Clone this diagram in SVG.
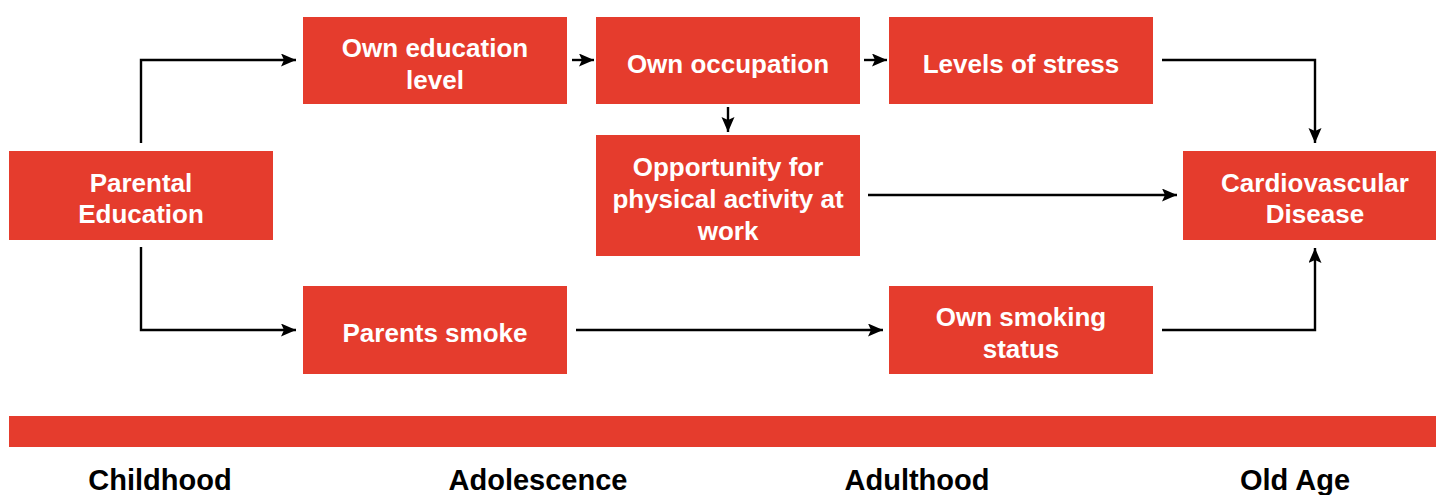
<svg xmlns="http://www.w3.org/2000/svg" width="1436" height="495" viewBox="0 0 1436 495">
  <style>
    .box { fill: #E53C2D; }
    .lbl { fill: #ffffff; font-family: "Liberation Sans", Arial, sans-serif; font-weight: bold; font-size: 26px; text-anchor: middle; }
    .stage { fill: #000000; font-family: "Liberation Sans", Arial, sans-serif; font-weight: bold; font-size: 29px; text-anchor: middle; }
    .link { fill: none; stroke: #000000; stroke-width: 2.4; marker-end: url(#head); }
  </style>
  <defs>
    <marker id="head" markerUnits="userSpaceOnUse" markerWidth="18" markerHeight="14" refX="15" refY="6.5" orient="auto">
      <path d="M0,0 L15,6.5 L0,13 L3,6.5 Z" fill="#000000"/>
    </marker>
  </defs>
  <rect width="1436" height="495" fill="#ffffff"/>

  <g id="parental-education">
    <rect class="box" x="9" y="151" width="264" height="89"/>
    <text class="lbl" x="141" y="192">Parental</text>
    <text class="lbl" x="141" y="223">Education</text>
  </g>
  <g id="own-education">
    <rect class="box" x="303" y="17" width="264" height="87"/>
    <text class="lbl" x="435" y="57">Own education</text>
    <text class="lbl" x="435" y="89">level</text>
  </g>
  <g id="own-occupation">
    <rect class="box" x="596" y="17" width="264" height="87"/>
    <text class="lbl" x="728" y="73">Own occupation</text>
  </g>
  <g id="levels-of-stress">
    <rect class="box" x="889" y="17" width="264" height="87"/>
    <text class="lbl" x="1021" y="73">Levels of stress</text>
  </g>
  <g id="physical-activity">
    <rect class="box" x="596" y="135" width="264" height="121"/>
    <text class="lbl" x="728" y="176">Opportunity for</text>
    <text class="lbl" x="728" y="208">physical activity at</text>
    <text class="lbl" x="728" y="240">work</text>
  </g>
  <g id="cardiovascular-disease">
    <rect class="box" x="1183" y="151" width="253" height="89"/>
    <text class="lbl" x="1315" y="192">Cardiovascular</text>
    <text class="lbl" x="1315" y="223">Disease</text>
  </g>
  <g id="parents-smoke">
    <rect class="box" x="303" y="286" width="264" height="88"/>
    <text class="lbl" x="435" y="342">Parents smoke</text>
  </g>
  <g id="own-smoking">
    <rect class="box" x="889" y="286" width="264" height="88"/>
    <text class="lbl" x="1021" y="326">Own smoking</text>
    <text class="lbl" x="1021" y="358">status</text>
  </g>

  <g id="connectors">
    <path class="link" d="M141,143 V60 H296"/>
    <path class="link" d="M572,60 H594"/>
    <path class="link" d="M864,60 H887"/>
    <path class="link" d="M728,107 V132"/>
    <path class="link" d="M1162,60 H1315 V143"/>
    <path class="link" d="M868,195 H1177"/>
    <path class="link" d="M141,247 V330 H296"/>
    <path class="link" d="M576,330 H883"/>
    <path class="link" d="M1162,330 H1315 V248"/>
  </g>

  <g id="timeline">
    <rect class="box" x="9" y="416" width="1427" height="31"/>
    <text class="stage" x="160" y="490">Childhood</text>
    <text class="stage" x="538" y="490">Adolescence</text>
    <text class="stage" x="917" y="490">Adulthood</text>
    <text class="stage" x="1295" y="490">Old Age</text>
  </g>
</svg>
